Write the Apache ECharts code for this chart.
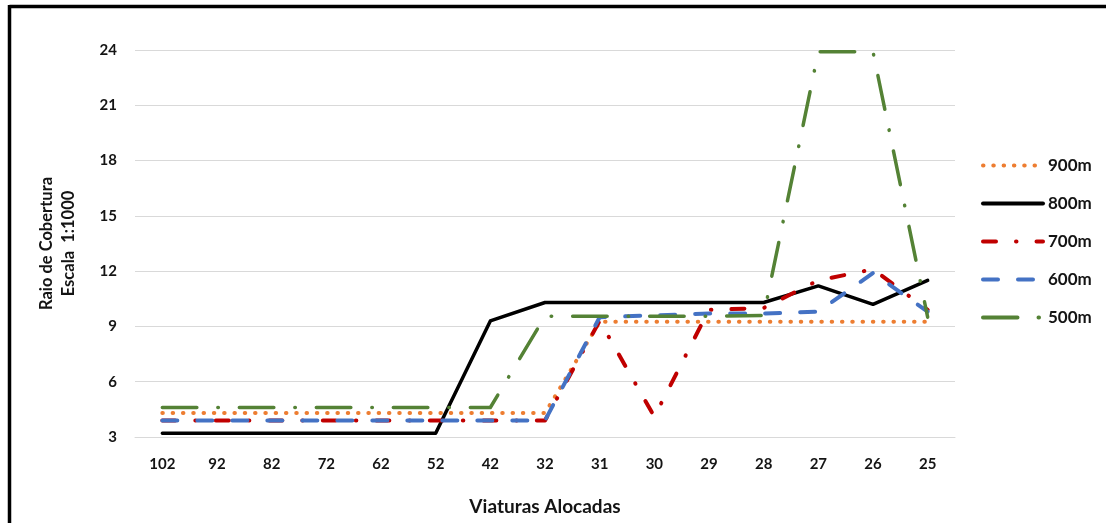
<!DOCTYPE html>
<html>
<head>
<meta charset="utf-8">
<script src="https://cdn.jsdelivr.net/npm/echarts@6/dist/echarts.min.js"></script>
<style>
  html, body { margin: 0; padding: 0; background: #ffffff; }
  #chart { width: 1106px; height: 523px; }
</style>
</head>
<body>
<div id="chart"></div>
<script>
// Vehicles allocated (x axis categories)
const viaturas = ['102', '92', '82', '72', '62', '52', '42', '32', '31', '30', '29', '28', '27', '26', '25'];

// Coverage radius (scale 1:1000) for each distance
const raio900 = [4.3, 4.3, 4.3, 4.3, 4.3, 4.3, 4.3, 4.3, 9.25, 9.25, 9.25, 9.25, 9.25, 9.25, 9.25];
const raio800 = [3.2, 3.2, 3.2, 3.2, 3.2, 3.2, 9.3, 10.3, 10.3, 10.3, 10.3, 10.3, 11.2, 10.2, 11.5];
const raio700 = [3.9, 3.9, 3.9, 3.9, 3.9, 3.9, 3.9, 3.9, 9.3, 4.1, 9.9, 10.0, 11.5, 12.1, 9.9];
const raio600 = [3.9, 3.9, 3.9, 3.9, 3.9, 3.9, 3.9, 3.9, 9.5, 9.6, 9.7, 9.7, 9.8, 11.9, 9.8];
const raio500 = [4.6, 4.6, 4.6, 4.6, 4.6, 4.6, 4.6, 9.55, 9.55, 9.55, 9.55, 9.6, 23.9, 23.9, 9.5];

const yTicks = { min: 3, max: 24, interval: 3 };

const FONT = 'Lato, "Open Sans", sans-serif';
const TEXT = '#141414';

const chart = echarts.init(document.getElementById('chart'), null, { renderer: 'canvas' });

function lineSeries(name, data, color, width, dash) {
  return {
    name: name,
    type: 'line',
    data: data,
    symbol: 'none',
    smooth: false,
    lineStyle: {
      color: color,
      width: width,
      type: dash || 'solid',
      cap: 'round',
      join: 'round'
    },
    itemStyle: { color: color },
    emphasis: { disabled: true }
  };
}

chart.setOption({
  animation: false,
  backgroundColor: '#ffffff',
  grid: { left: 135, right: 151, top: 50, bottom: 86, containLabel: false },
  legend: {
    orient: 'vertical',
    left: 976,
    top: 152,
    itemWidth: 60,
    itemHeight: 14,
    itemGap: 21,
    itemStyle: { opacity: 0 },
    lineStyle: { width: 4 },
    textStyle: { fontFamily: FONT, fontWeight: 'bold', fontSize: 17, color: TEXT },
    data: ['900m', '800m', '700m', '600m', '500m']
  },
  xAxis: {
    type: 'category',
    data: viaturas,
    boundaryGap: true,
    name: 'Viaturas Alocadas',
    nameLocation: 'middle',
    nameGap: 60,
    nameTextStyle: { fontFamily: FONT, fontWeight: 'bold', fontSize: 19, color: TEXT },
    axisLine: { show: true, lineStyle: { color: '#d9d9d9', width: 1 } },
    axisTick: { show: false },
    axisLabel: { fontFamily: FONT, fontWeight: 'bold', fontSize: 15, color: TEXT, margin: 20 }
  },
  yAxis: {
    type: 'value',
    min: yTicks.min,
    max: yTicks.max,
    interval: yTicks.interval,
    name: 'Raio de Cobertura\nEscala  1:1000',
    nameLocation: 'middle',
    nameGap: 55,
    nameRotate: 90,
    nameTextStyle: { fontFamily: FONT, fontWeight: 'bold', fontSize: 16.5, color: TEXT, lineHeight: 22 },
    axisLine: { show: false },
    axisTick: { show: false },
    axisLabel: { fontFamily: FONT, fontWeight: 'bold', fontSize: 15, color: TEXT, margin: 18 },
    splitLine: { show: true, lineStyle: { color: '#d9d9d9', width: 1 } }
  },
  graphic: [
    { type: 'line', shape: { x1: 9.5, y1: 6.5, x2: 1106, y2: 6.5 }, style: { stroke: '#000', lineWidth: 3.5 }, silent: true },
    { type: 'line', shape: { x1: 9.5, y1: 5, x2: 9.5, y2: 523 }, style: { stroke: '#000', lineWidth: 3.5 }, silent: true }
  ],
  series: [
    lineSeries('900m', raio900, '#ED7D31', 4, [0.5, 9.8]),
    lineSeries('800m', raio800, '#000000', 3.5),
    lineSeries('700m', raio700, '#C00000', 4, [13, 20, 0.5, 20]),
    lineSeries('600m', raio600, '#4472C4', 4, [15, 20]),
    lineSeries('500m', raio500, '#548235', 3.5, [34.5, 21, 0.5, 21])
  ]
});
</script>
</body>
</html>
